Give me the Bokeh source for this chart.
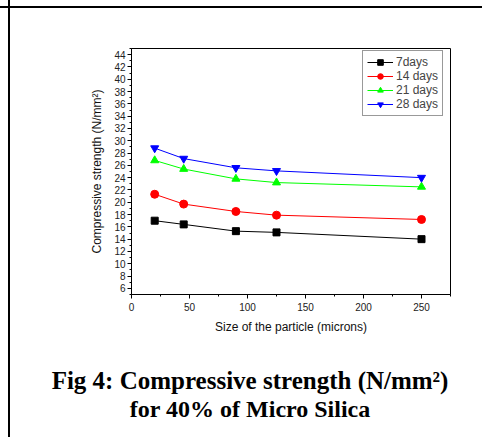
from bokeh.plotting import figure
from bokeh.models import (FixedTicker, Legend, LegendItem, Range1d, Title, InlineStyleSheet)
from bokeh.embed import file_html
from bokeh.resources import INLINE

# ---- data ----
sizes = [20, 45, 90, 125, 250]
days7 = [17.0, 16.4, 15.3, 15.1, 14.0]
days14 = [21.3, 19.7, 18.5, 17.9, 17.2]
days21 = [26.8, 25.4, 23.8, 23.2, 22.5]
days28 = [28.8, 27.1, 25.6, 25.1, 24.0]
series_names = ["7days", "14 days", "21 days", "28 days"]
x_ticks = [0, 50, 100, 150, 200, 250]
y_ticks = list(range(6, 45, 2))
caption1 = "Fig 4: Compressive strength (N/mm\u00b2)"
caption2 = "for 40% of Micro Silica"

W, H = 466, 421
BL, BT = 131, 48
FW, FH = 319, 247
BR, BB = W - BL - FW, H - BT - FH

p = figure(width=W, height=H, output_backend="svg", toolbar_location=None,
           x_range=Range1d(0, 275), y_range=Range1d(5, 45),
           min_border_left=BL, min_border_right=BR, min_border_top=BT, min_border_bottom=BB)
p.xgrid.visible = False
p.ygrid.visible = False
p.outline_line_color = "black"
p.outline_line_width = 1
p.background_fill_color = "white"
p.border_fill_color = "white"

FONT = "Liberation Sans"
for ax in (p.xaxis[0], p.yaxis[0]):
    ax.axis_line_color = "black"
    ax.major_tick_line_color = "black"
    ax.minor_tick_line_color = "black"
    ax.major_tick_in = 0
    ax.major_tick_out = 4
    ax.minor_tick_in = 0
    ax.minor_tick_out = 2
    ax.major_label_text_font = FONT
    ax.major_label_text_font_size = "10px"
    ax.major_label_text_color = "#222222"
    ax.axis_label_text_font = FONT
    ax.axis_label_text_font_size = "12px"
    ax.axis_label_text_font_style = "normal"
    ax.axis_label_text_color = "#111111"

p.xaxis[0].ticker = FixedTicker(ticks=x_ticks, minor_ticks=list(range(0, 276, 25)))
p.yaxis[0].ticker = FixedTicker(ticks=y_ticks, minor_ticks=list(range(5, 46, 1)))
p.xaxis[0].axis_label = "Size of the particle (microns)"
p.yaxis[0].axis_label = "Compressive strength (N/mm\u00b2)"
p.xaxis[0].major_label_standoff = 4
p.yaxis[0].major_label_standoff = 2
p.xaxis[0].axis_label_standoff = 6
p.yaxis[0].axis_label_standoff = 7

colors = ["black", "red", "#00ff00", "blue"]
markers = ["square", "circle", "triangle", "inverted_triangle"]
msize = [7, 8, 8, 8]
items = []
for name, ys, c, m, s in zip(series_names, [days7, days14, days21, days28], colors, markers, msize):
    l = p.line(sizes, ys, line_color=c, line_width=1)
    sc = p.scatter(sizes, ys, marker=m, size=s, fill_color=c, line_color=c)
    items.append(LegendItem(label=name, renderers=[l, sc]))

legend = Legend(items=items, location=(231, 178), padding=4, spacing=0,
                label_height=14, glyph_height=14, glyph_width=26, label_standoff=3,
                label_text_font=FONT, label_text_font_size="12px",
                border_line_color="#333333", border_line_width=1,
                background_fill_color="white", background_fill_alpha=1, margin=0)
p.add_layout(legend)

# caption as titles below the axis, positioned by left offset
FS1, FS2 = 25, 24
# Times-Bold advance widths (per em) to centre each line on x=250
tb = {"F": .611, "i": .278, "g": .5, " ": .25, "4": .5, ":": .333, "C": .722, "o": .5,
      "m": .833, "p": .556, "r": .444, "e": .444, "s": .389, "v": .5, "t": .333, "n": .556,
      "h": .556, "(": .333, "N": .722, "/": .278, "\u00b2": .3, ")": .333, "f": .333,
      "0": .5, "%": 1.0, "M": .944, "c": .444, "S": .556, "l": .278, "a": .5}
def width(s, fs):
    return sum(tb.get(ch, .5) for ch in s) * fs

spacer = Title(text=" ", text_font_size="10px", standoff=15)
t1 = Title(text=caption1, align="left", offset=250 - width(caption1, FS1) / 2 - BL,
           text_font="Liberation Serif", text_font_style="bold", text_font_size=f"{FS1}px",
           text_color="black", standoff=0, text_line_height=0.85)
t2 = Title(text=caption2, align="left", offset=250 - width(caption2, FS2) / 2 - BL,
           text_font="Liberation Serif", text_font_style="bold", text_font_size=f"{FS2}px",
           text_color="black", standoff=0, text_line_height=0.85)
p.add_layout(spacer, "below")
p.add_layout(t1, "below")
p.add_layout(t2, "below")

# page (table) border lines
p.stylesheets = [InlineStyleSheet(css="""
:host { overflow: visible; }
:host::before { content: ""; position: absolute; left: 8px; top: 0px; width: 2px; height: 437px;
                background: black; z-index: 10; }
:host::after { content: ""; position: absolute; left: 0px; top: 6px; width: 482px; height: 2px;
               background: black; z-index: 10; }
""")]

open("out.html", "w").write(file_html(p, INLINE))
